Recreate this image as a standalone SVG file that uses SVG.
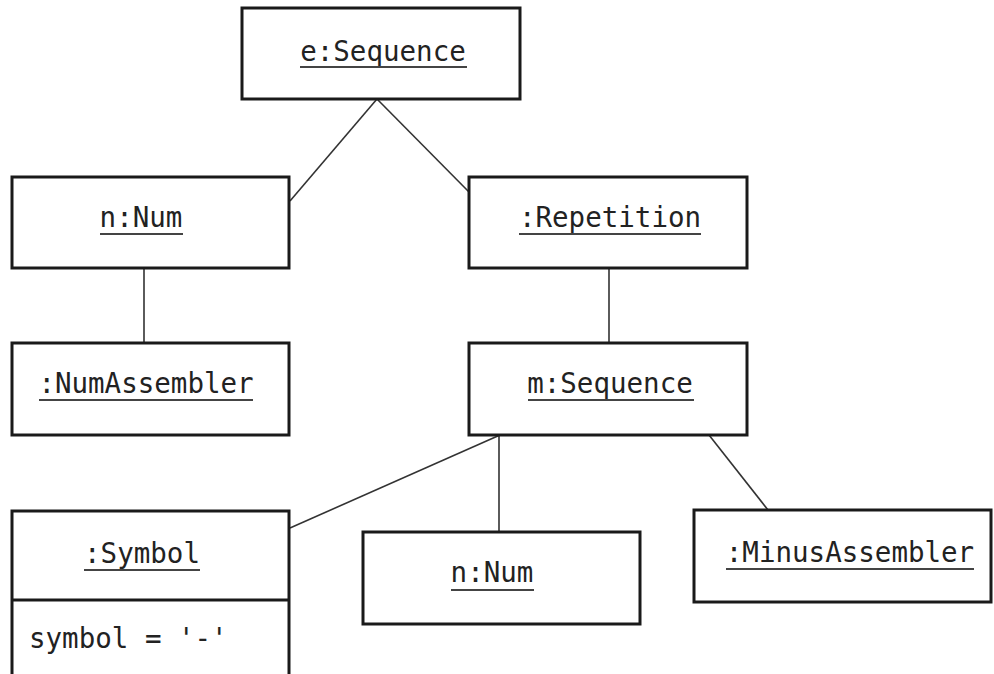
<svg xmlns="http://www.w3.org/2000/svg" width="994" height="674" viewBox="0 0 994 674">
  <style>
    .box { fill: #fff; stroke: #1a1a1a; stroke-width: 3; }
    .lbl { font-family: "DejaVu Sans Mono", "Liberation Mono", monospace; font-size: 27.5px; fill: #222; text-anchor: middle; }
    .attr { font-family: "DejaVu Sans Mono", "Liberation Mono", monospace; font-size: 27.5px; fill: #222; }
    .ul { stroke: #444; stroke-width: 2; }
    .link { stroke: #333; stroke-width: 1.6; fill: none; }
  </style>
  <rect width="994" height="674" fill="#fff"/>

  <g id="connectors">
    <line class="link" x1="377" y1="99" x2="290" y2="201"/>
    <line class="link" x1="377" y1="99" x2="469" y2="192"/>
    <line class="link" x1="144" y1="268" x2="144" y2="343"/>
    <line class="link" x1="609" y1="268" x2="609" y2="343"/>
    <line class="link" x1="500" y1="435" x2="290" y2="528"/>
    <line class="link" x1="499" y1="435" x2="499" y2="532"/>
    <line class="link" x1="709" y1="435" x2="768" y2="510"/>
  </g>

  <g id="e-sequence">
    <rect class="box" x="242" y="8" width="278" height="91"/>
    <text class="lbl" x="383" y="61">e:Sequence</text>
    <line class="ul" x1="300" y1="67" x2="467" y2="67"/>
  </g>

  <g id="n-num">
    <rect class="box" x="12" y="177" width="277" height="91"/>
    <text class="lbl" x="141" y="227">n:Num</text>
    <line class="ul" x1="100" y1="234" x2="183" y2="234"/>
  </g>

  <g id="repetition">
    <rect class="box" x="469" y="177" width="278" height="91"/>
    <text class="lbl" x="610" y="227">:Repetition</text>
    <line class="ul" x1="519" y1="234" x2="701" y2="234"/>
  </g>

  <g id="num-assembler">
    <rect class="box" x="12" y="343" width="277" height="92"/>
    <text class="lbl" x="146" y="393">:NumAssembler</text>
    <line class="ul" x1="39" y1="400" x2="253" y2="400"/>
  </g>

  <g id="m-sequence">
    <rect class="box" x="469" y="343" width="278" height="92"/>
    <text class="lbl" x="610" y="393">m:Sequence</text>
    <line class="ul" x1="528" y1="400" x2="694" y2="400"/>
  </g>

  <g id="symbol">
    <rect class="box" x="12" y="511" width="277" height="180"/>
    <line class="box" x1="12" y1="600" x2="289" y2="600"/>
    <text class="lbl" x="142" y="563">:Symbol</text>
    <line class="ul" x1="84" y1="570" x2="200" y2="570"/>
    <text class="attr" x="29" y="648">symbol = '-'</text>
  </g>

  <g id="n-num-2">
    <rect class="box" x="363" y="532" width="277" height="92"/>
    <text class="lbl" x="492" y="582">n:Num</text>
    <line class="ul" x1="451" y1="590" x2="534" y2="590"/>
  </g>

  <g id="minus-assembler">
    <rect class="box" x="694" y="510" width="297" height="92"/>
    <text class="lbl" x="850" y="562">:MinusAssembler</text>
    <line class="ul" x1="726" y1="569" x2="974" y2="569"/>
  </g>
</svg>
